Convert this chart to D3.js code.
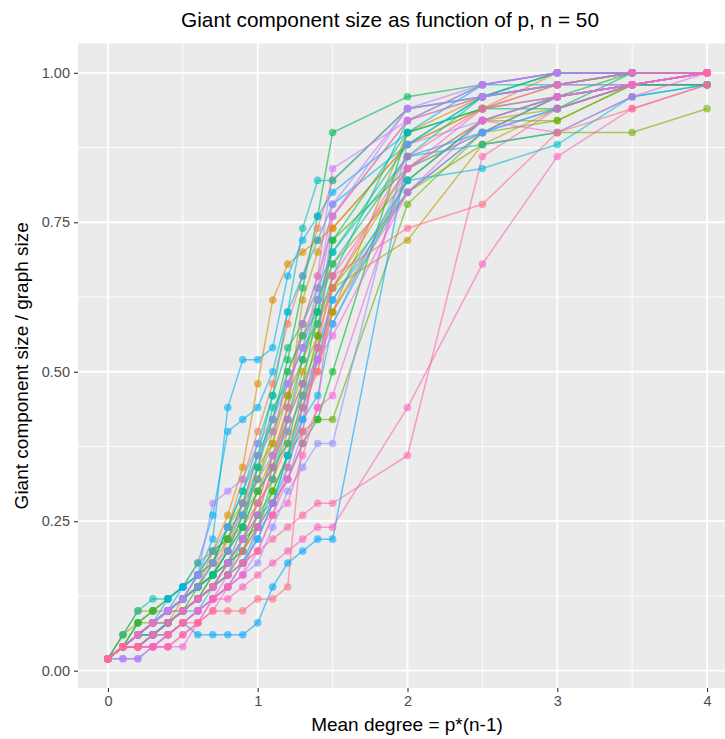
<!DOCTYPE html>
<html>
<head>
<meta charset="utf-8">
<script src="https://cdn.jsdelivr.net/npm/d3@7"></script>
<style>
  body { margin: 0; background: #fff; }
  text { font-family: "Liberation Sans", Arial, Helvetica, sans-serif; }
</style>
</head>
<body>
<svg id="chart" width="725" height="739"></svg>
<script>
// graph size and the mean degrees that were simulated
var graphSize = 50;
var degrees = [0, 0.1, 0.2, 0.3, 0.4, 0.5, 0.6, 0.7, 0.8, 0.9, 1, 1.1, 1.2, 1.3, 1.4, 1.5, 2, 2.5, 3, 3.5, 4];

// giant component size (nodes) for each run, one value per degree
var run01 = [1,2,3,4,5,6,7,8,10,12,14,16,19,22,26,30,40,45,48,49,50];
var run02 = [1,2,3,4,5,6,7,8,11,14,17,19,23,29,33,37,44,47,50,50,50];
var run03 = [1,2,3,3,4,5,6,8,9,11,14,16,20,23,25,30,45,48,49,50,50];
var run04 = [1,2,3,3,4,6,7,10,13,17,24,31,34,35,36,37,44,47,49,50,50];
var run05 = [1,2,3,4,4,5,6,7,9,11,14,18,21,25,28,32,36,44,47,49,49];
var run06 = [1,3,5,5,6,7,9,10,11,12,15,18,22,26,29,32,42,45,48,49,50];
var run07 = [1,2,3,4,5,6,7,9,12,14,16,19,25,28,31,34,41,46,47,49,49];
var run08 = [1,2,4,4,5,6,7,8,10,13,16,20,23,26,30,32,40,44,45,45,47];
var run09 = [1,2,2,3,4,5,6,7,9,10,13,15,18,20,21,21,39,45,46,49,49];
var run10 = [1,2,3,4,5,5,6,7,9,10,12,15,18,23,28,36,42,46,48,49,50];
var run11 = [1,2,4,5,6,7,8,10,11,14,18,21,26,32,38,45,48,49,50,50,50];
var run12 = [1,2,2,3,4,5,6,8,10,12,15,17,19,24,30,36,45,47,47,50,50];
var run13 = [1,2,3,4,5,6,7,9,12,15,18,23,27,29,32,35,44,48,49,49,50];
var run14 = [1,2,3,4,5,6,7,8,10,13,17,22,24,27,29,33,46,49,49,50,50];
var run15 = [1,3,5,6,6,7,8,9,12,15,19,23,30,37,41,41,47,48,50,50,50];
var run16 = [1,2,3,3,4,5,5,7,8,9,12,16,21,26,31,35,43,44,45,48,49];
var run17 = [1,2,3,4,4,5,6,7,8,11,13,14,18,22,27,31,41,42,44,48,49];
var run18 = [1,2,3,4,5,7,9,13,20,21,22,25,30,33,36,39,44,48,49,50,50];
var run19 = [1,2,3,4,6,7,8,11,22,26,26,27,33,36,38,40,45,49,50,50,50];
var run20 = [1,2,2,3,3,4,3,3,3,3,4,7,9,10,11,11,43,45,47,49,49];
var run21 = [1,1,1,2,3,4,5,6,7,9,11,14,17,21,26,31,40,45,48,49,50];
var run22 = [1,2,2,3,3,4,5,6,7,8,9,12,15,17,19,19,44,46,48,49,50];
var run23 = [1,2,3,4,5,6,8,14,15,16,19,21,24,27,31,38,47,48,49,50,50];
var run24 = [1,2,3,4,5,5,6,7,9,11,14,18,22,29,33,42,46,48,49,49,50];
var run25 = [1,1,1,2,3,4,5,6,7,8,10,13,16,20,27,38,46,49,50,50,50];
var run26 = [1,2,2,2,2,2,4,6,8,10,12,14,16,19,22,23,42,47,48,49,50];
var run27 = [1,2,2,2,2,3,4,5,7,8,12,13,14,18,22,33,42,46,48,49,50];
var run28 = [1,2,2,2,3,4,5,6,6,7,8,9,10,11,12,12,22,34,43,47,49];
var run29 = [1,2,2,2,2,3,4,6,7,9,10,11,12,13,14,14,18,43,47,49,50];
var run30 = [1,2,2,3,3,4,4,5,5,5,6,6,7,20,27,33,37,39,45,47,49];
var run31 = [1,2,3,4,5,6,8,9,12,16,20,24,29,33,37,41,47,48,49,50,50];
var run32 = [1,2,3,3,4,5,6,7,8,10,13,17,22,31,35,38,46,48,50,50,50];
var run33 = [1,3,4,5,5,6,8,9,11,13,15,17,21,24,27,30,41,46,46,49,49];
var run34 = [1,2,2,3,4,5,7,8,9,11,12,14,16,19,21,25,45,47,48,50,50];
var run35 = [1,2,3,4,5,6,7,8,9,12,17,21,25,28,30,34,43,48,50,50,50];
var run36 = [1,2,3,3,4,5,6,7,8,9,11,14,18,21,23,29,41,46,48,49,50];
var run37 = [1,2,3,4,5,6,8,10,12,13,16,18,20,23,26,29,42,45,47,49,50];
var run38 = [1,2,3,4,5,6,7,9,10,14,18,20,24,27,32,39,47,49,50,50,50];
var run39 = [1,2,2,3,4,5,6,7,9,11,13,17,21,24,26,28,40,46,45,48,50];
var run40 = [1,2,3,4,4,5,6,7,8,9,10,13,17,22,25,32,43,47,49,50,50];

// order of runs = order of the colour scale
var runs = [run01, run31, run02, run03, run04, run32, run05, run06, run07, run33,
            run08, run09, run10, run34, run11, run12, run13, run35, run14, run15,
            run16, run17, run36, run18, run19, run20, run21, run37, run22, run23,
            run38, run24, run25, run39, run26, run27, run28, run29, run40, run30];

var xTicks = [0, 1, 2, 3, 4];
var xMinor = [0.5, 1.5, 2.5, 3.5];
var yTicks = [0, 0.25, 0.5, 0.75, 1];
var yMinor = [0.125, 0.375, 0.625, 0.875];

// ggplot style hue palette (polar LUV -> sRGB)
function hueColor(h, c, l) {
    var Xn = 95.047, Yn = 100, Zn = 108.883;
    var hr = h * Math.PI / 180;
    var U = c * Math.cos(hr), V = c * Math.sin(hr);
    var Y = l > 8 ? Yn * Math.pow((l + 16) / 116, 3) : Yn * l / 903.3;
    var t = Xn + 15 * Yn + 3 * Zn;
    var u = U / (13 * l) + 4 * Xn / t, v = V / (13 * l) + 9 * Yn / t;
    var X = 9 * Y * u / (4 * v);
    var Z = Y * (12 - 3 * u - 20 * v) / (4 * v);
    X /= 100; Y /= 100; Z /= 100;
    var lin = [
        3.240479 * X - 1.537150 * Y - 0.498535 * Z,
        -0.969256 * X + 1.875992 * Y + 0.041556 * Z,
        0.055648 * X - 0.204043 * Y + 1.057311 * Z
    ];
    var rgb = lin.map(function(c) {
        c = c <= 0.0031308 ? 12.92 * c : 1.055 * Math.pow(c, 1 / 2.4) - 0.055;
        return Math.round(Math.max(0, Math.min(1, c)) * 255);
    });
    return d3.rgb(rgb[0], rgb[1], rgb[2]).formatHex();
}
var palette = runs.map(function(r, i) { return hueColor(15 + 360 * i / runs.length, 100, 65); });

var svg = d3.select('#chart');
var panel = { left: 78, right: 737, top: 43.5, bottom: 688 };

var x = d3.scaleLinear().domain([-0.2, 4.2]).range([panel.left, panel.right]);
var y = d3.scaleLinear().domain([-0.029, 1.049]).range([panel.bottom, panel.top]);

svg.append('rect')
    .attr('x', panel.left).attr('y', panel.top)
    .attr('width', panel.right - panel.left).attr('height', panel.bottom - panel.top)
    .attr('fill', '#ebebeb');

var grid = svg.append('g');
grid.selectAll('.xminor').data(xMinor).enter().append('line')
    .attr('x1', x).attr('x2', x).attr('y1', panel.top).attr('y2', panel.bottom)
    .attr('stroke', '#fff').attr('stroke-width', 0.9);
grid.selectAll('.yminor').data(yMinor).enter().append('line')
    .attr('y1', y).attr('y2', y).attr('x1', panel.left).attr('x2', panel.right)
    .attr('stroke', '#fff').attr('stroke-width', 0.9);
grid.selectAll('.xmajor').data(xTicks).enter().append('line')
    .attr('x1', x).attr('x2', x).attr('y1', panel.top).attr('y2', panel.bottom)
    .attr('stroke', '#fff').attr('stroke-width', 1.8);
grid.selectAll('.ymajor').data(yTicks).enter().append('line')
    .attr('y1', y).attr('y2', y).attr('x1', panel.left).attr('x2', panel.right)
    .attr('stroke', '#fff').attr('stroke-width', 1.8);

// axes
var xAxis = svg.append('g')
    .attr('transform', 'translate(0,' + panel.bottom + ')')
    .call(d3.axisBottom(x).tickValues(xTicks).tickSize(4).tickPadding(4).tickFormat(d3.format('d')));
var yAxis = svg.append('g')
    .attr('transform', 'translate(' + panel.left + ',0)')
    .call(d3.axisLeft(y).tickValues(yTicks).tickSize(4).tickPadding(4).tickFormat(d3.format('.2f')));
[xAxis, yAxis].forEach(function(a) {
    a.select('.domain').remove();
    a.selectAll('line').attr('stroke', '#333').attr('stroke-width', 1.1);
    a.selectAll('text').attr('fill', '#4d4d4d').style('font-size', '14.5px')
        .style('font-family', '"Liberation Sans", Arial, sans-serif');
});

// series
var line = d3.line()
    .x(function(d) { return x(d.deg); })
    .y(function(d) { return y(d.frac); });

var series = runs.map(function(r, i) {
    return {
        color: palette[i],
        pts: r.map(function(s, j) { return { deg: degrees[j], frac: s / graphSize }; })
    };
});

var plot = svg.append('g');
plot.selectAll('path.run').data(series).enter().append('path')
    .attr('class', 'run')
    .attr('d', function(d) { return line(d.pts); })
    .attr('fill', 'none')
    .attr('stroke', function(d) { return d.color; })
    .attr('stroke-width', 1.5)
    .attr('stroke-opacity', 0.6);

series.forEach(function(s) {
    plot.append('g').selectAll('circle').data(s.pts).enter().append('circle')
        .attr('cx', function(d) { return x(d.deg); })
        .attr('cy', function(d) { return y(d.frac); })
        .attr('r', 3.8)
        .attr('fill', s.color)
        .attr('fill-opacity', 0.6);
});

// titles
svg.append('text')
    .attr('x', 390).attr('y', 27)
    .attr('text-anchor', 'middle')
    .style('font-size', '20.8px')
    .text('Giant component size as function of p, n = 50');

svg.append('text')
    .attr('x', 407).attr('y', 731)
    .attr('text-anchor', 'middle')
    .style('font-size', '19px')
    .text('Mean degree = p*(n-1)');

svg.append('text')
    .attr('transform', 'translate(28,' + ((panel.top + panel.bottom) / 2) + ') rotate(-90)')
    .attr('text-anchor', 'middle')
    .style('font-size', '19px')
    .text('Giant component size / graph size');
</script>
</body>
</html>
